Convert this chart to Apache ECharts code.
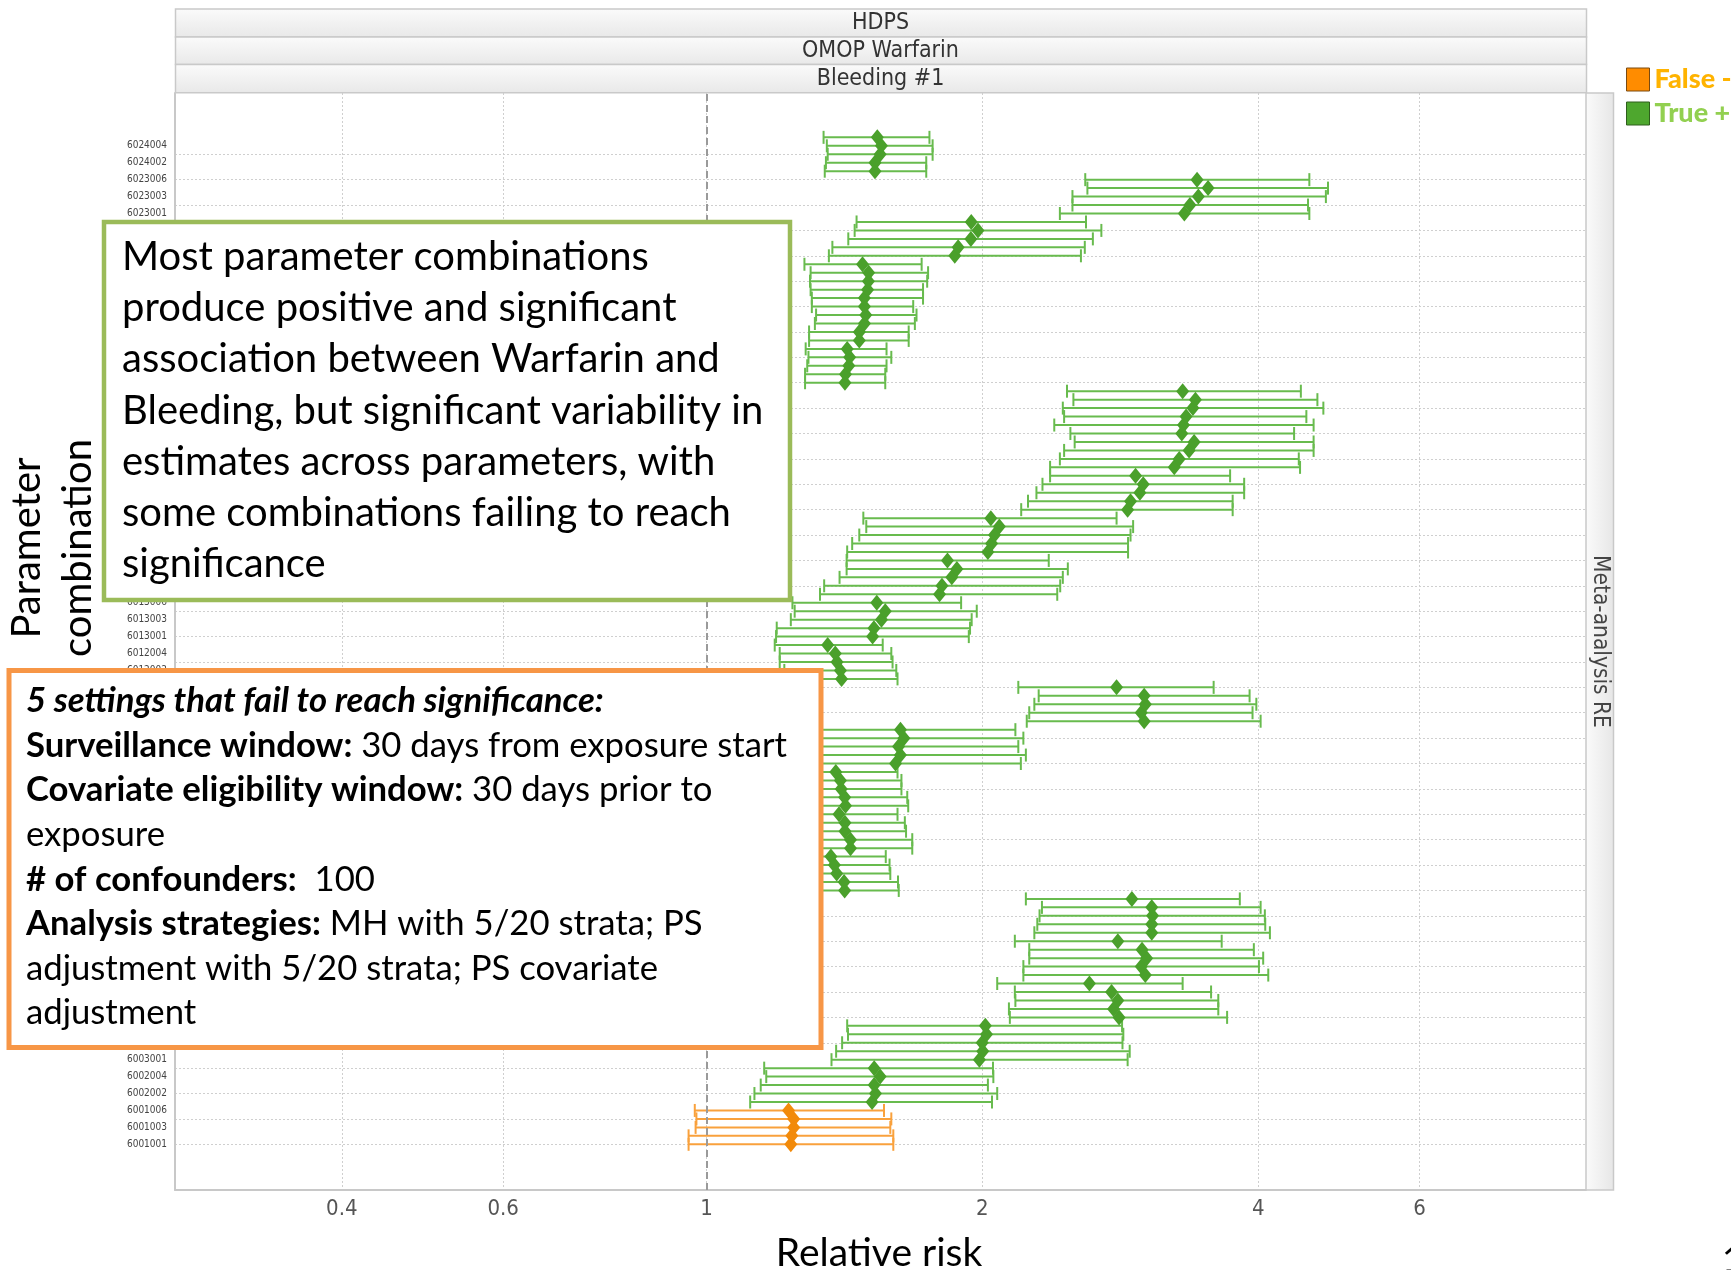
<!DOCTYPE html>
<html>
<head>
<meta charset="utf-8">
<script src="https://cdn.jsdelivr.net/npm/echarts@6/dist/echarts.min.js"></script>
<style>
html,body{margin:0;padding:0;background:#ffffff;}
#chart{width:1731px;height:1270px;}
</style>
</head>
<body>
<div id="chart"></div>
<script>
// ---------------- DATA (row 0 = bottom of the chart) ----------------
const categories = [
  '6001001','6001002','6001003','6001004','6001006',
  '6002001','6002002','6002003','6002004','6002006',
  '6003001','6003002','6003003','6003004','6003006',
  '6004001','6004002','6004003','6004004','6004006',
  '6005001','6005002','6005003','6005004','6005006',
  '6006001','6006002','6006003','6006004','6006006',
  '6007001','6007002','6007003','6007004','6007006',
  '6008001','6008002','6008003','6008004','6008006',
  '6009001','6009002','6009003','6009004','6009006',
  '6010001','6010002','6010003','6010004','6010006',
  '6011001','6011002','6011003','6011004','6011006',
  '6012001','6012002','6012003','6012004','6012006',
  '6013001','6013002','6013003','6013004','6013006',
  '6014001','6014002','6014003','6014004','6014006',
  '6015001','6015002','6015003','6015004','6015006',
  '6016001','6016002','6016003','6016004','6016006',
  '6017001','6017002','6017003','6017004','6017006',
  '6018001','6018002','6018003','6018004','6018006',
  '6019001','6019002','6019003','6019004','6019006',
  '6020001','6020002','6020003','6020004','6020006',
  '6021001','6021002','6021003','6021004','6021006',
  '6022001','6022002','6022003','6022004','6022006',
  '6023001','6023002','6023003','6023004','6023006',
  '6024001','6024002','6024003','6024004','6024006'
];
const estimate = [
  1.236,1.239,1.245,1.245,1.229,
  1.516,1.529,1.524,1.547,1.524,
  1.985,2.002,1.999,2.021,2.015,
  2.820,2.781,2.811,2.767,2.617,
  3.012,2.981,3.022,2.987,2.811,
  3.061,3.061,3.067,3.061,2.912,
  1.415,1.413,1.387,1.379,1.367,
  1.436,1.436,1.416,1.416,1.395,
  1.418,1.415,1.403,1.400,1.384,
  1.608,1.628,1.620,1.642,1.628,
  3.003,2.981,3.012,3.003,2.802,
  1.404,1.400,1.388,1.382,1.356,
  1.518,1.523,1.552,1.567,1.534,
  1.796,1.807,1.852,1.876,1.832,
  2.028,2.047,2.062,2.087,2.043,
  2.881,2.902,2.971,2.996,2.939,
  3.239,3.280,3.362,3.405,3.301,
  3.315,3.337,3.394,3.416,3.308,
  1.416,1.418,1.430,1.433,1.424,
  1.468,1.468,1.487,1.492,1.487,
  1.487,1.499,1.502,1.503,1.480,
  1.866,1.882,1.943,1.978,1.945,
  3.322,3.369,3.441,3.526,3.430,
  1.527,1.527,1.547,1.552,1.536
];
const lower = [
  0.956,0.956,0.973,0.975,0.971,
  1.116,1.128,1.146,1.162,1.156,
  1.369,1.385,1.406,1.427,1.424,
  2.143,2.138,2.173,2.170,2.076,
  2.217,2.217,2.250,2.250,2.170,
  2.279,2.296,2.309,2.323,2.231,
  1.235,1.235,1.211,1.201,1.192,
  1.229,1.229,1.215,1.219,1.205,
  1.211,1.209,1.206,1.201,1.184,
  1.173,1.188,1.198,1.216,1.220,
  2.236,2.250,2.279,2.304,2.189,
  1.220,1.216,1.202,1.202,1.187,
  1.191,1.193,1.236,1.248,1.241,
  1.330,1.344,1.397,1.422,1.422,
  1.424,1.442,1.468,1.494,1.483,
  2.205,2.243,2.291,2.326,2.371,
  2.371,2.430,2.456,2.522,2.495,
  2.396,2.456,2.448,2.514,2.474,
  1.281,1.281,1.288,1.292,1.283,
  1.294,1.294,1.313,1.317,1.303,
  1.303,1.299,1.297,1.299,1.279,
  1.360,1.372,1.428,1.451,1.458,
  2.430,2.508,2.508,2.604,2.590,
  1.346,1.350,1.356,1.353,1.342
];
const upper = [
  1.599,1.599,1.587,1.591,1.562,
  2.049,2.076,2.028,2.056,2.054,
  2.881,2.896,2.844,2.850,2.841,
  3.699,3.618,3.618,3.553,3.308,
  4.102,4.007,4.050,3.956,3.649,
  4.119,4.071,4.067,4.024,3.819,
  1.621,1.618,1.587,1.584,1.569,
  1.677,1.677,1.651,1.646,1.616,
  1.660,1.656,1.632,1.632,1.616,
  2.203,2.231,2.189,2.217,2.173,
  4.024,3.943,3.981,3.914,3.576,
  1.616,1.611,1.596,1.591,1.557,
  1.933,1.939,1.947,1.972,1.896,
  2.414,2.432,2.448,2.479,2.363,
  2.884,2.884,2.902,2.921,2.802,
  3.751,3.751,3.861,3.861,3.727,
  4.443,4.429,4.597,4.597,4.377,
  4.597,4.514,4.711,4.641,4.452,
  1.567,1.567,1.572,1.591,1.572,
  1.662,1.662,1.688,1.695,1.681,
  1.723,1.723,1.741,1.745,1.717,
  2.562,2.587,2.640,2.697,2.595,
  4.548,4.533,4.741,4.766,4.548,
  1.737,1.737,1.765,1.765,1.751
];
const xTickValues = [0.4, 0.6, 1, 2, 4, 6];
const xTickLabels = ['0.4', '0.6', '1', '2', '4', '6'];
const legendNames = ['False -', 'True +'];
const headerLabels = ['HDPS', 'OMOP Warfarin', 'Bleeding #1'];
const stripLabel = 'Meta-analysis RE';
const yTitleLines = ['Parameter', 'combination'];
const xTitle = 'Relative risk';
const greenLines = [
  'Most parameter combinations',
  'produce positive and significant',
  'association between Warfarin and',
  'Bleeding, but significant variability in',
  'estimates across parameters, with',
  'some combinations failing to reach',
  'significance'
];
const orangeLines = [
  '{bi|5 settings that fail to reach significance:}',
  '{b|Surveillance window:}{n| 30 days from exposure start}',
  '{b|Covariate eligibility window:}{n| 30 days prior to}',
  '{n|exposure}',
  '{b|# of confounders:}{n|  100}',
  '{b|Analysis strategies:}{n| MH with 5/20 strata; PS}',
  '{n|adjustment with 5/20 strata; PS covariate}',
  '{n|adjustment}'
];

// ---------------- STYLE ----------------
const CAL = 'Lato, "Open Sans", sans-serif';
const NAR = '"Liberation Sans Narrow", "DejaVu Sans Condensed", "Liberation Sans", sans-serif';
const GREEN_LINE = '#68bb4e', GREEN_PT = '#4aa02b';
const ORANGE_LINE = '#f9a13c', ORANGE_PT = '#f28a0a';

const G = {left: 175, top: 93, width: 1411, height: 1097};

// build series data
const greenBars = [], orangeBars = [], greenPts = [], orangePts = [];
categories.forEach((c, i) => {
  const bar = [Math.log(lower[i]), Math.log(upper[i]), i];
  const pt = [Math.log(estimate[i]), i];
  if (lower[i] < 1) { orangeBars.push(bar); orangePts.push(pt); }
  else { greenBars.push(bar); greenPts.push(pt); }
});
const xTickLn = xTickValues.map(v => Math.log(v));
const yLabelRows = categories.map((c, i) => i).filter(i => i % 2 === 0);
const yGridRows = categories.map((c, i) => i).filter(i => i % 3 === 0);

function makeBar(color) {
  return function (params, api) {
    const y = api.value(2);
    const a = api.coord([api.value(0), y]);
    const b = api.coord([api.value(1), y]);
    const h = 6.5;
    const st = {stroke: color, lineWidth: 2};
    return {
      type: 'group',
      children: [
        {type: 'line', shape: {x1: a[0], y1: a[1], x2: b[0], y2: b[1]}, style: st},
        {type: 'line', shape: {x1: a[0], y1: a[1] - h, x2: a[0], y2: a[1] + h}, style: st},
        {type: 'line', shape: {x1: b[0], y1: b[1] - h, x2: b[0], y2: b[1] + h}, style: st}
      ]
    };
  };
}

// graphic elements
const graphics = [];
const headerTop = [9, 37, 64.6];
const headerH = [28, 27.6, 28.2];
headerLabels.forEach((t, i) => {
  graphics.push({
    type: 'rect', z: 10,
    shape: {x: G.left + 0.5, y: headerTop[i], width: G.width, height: headerH[i]},
    style: {
      fill: new echarts.graphic.LinearGradient(0, 0, 0, 1, [
        {offset: 0, color: '#fbfbfb'}, {offset: 1, color: '#e8e8e8'}]),
      stroke: '#c9c9c9', lineWidth: 1.5
    }
  });
  graphics.push({
    type: 'text', z: 11,
    x: G.left + G.width / 2, y: headerTop[i] + headerH[i] / 2 + 0.5,
    style: {text: t, fontFamily: NAR, fontSize: 23, fill: '#333', align: 'center', verticalAlign: 'middle'}
  });
});
// right strip
graphics.push({
  type: 'rect', z: 10,
  shape: {x: G.left + G.width, y: G.top, width: 27.5, height: G.height},
  style: {
    fill: new echarts.graphic.LinearGradient(0, 0, 1, 0, [
      {offset: 0, color: '#fbfbfb'}, {offset: 1, color: '#e6e6e6'}]),
    stroke: '#c9c9c9', lineWidth: 1.5
  }
});
graphics.push({
  type: 'text', z: 11,
  x: G.left + G.width + 14, y: G.top + G.height / 2, rotation: -Math.PI / 2,
  style: {text: stripLabel, fontFamily: NAR, fontSize: 22.5, fill: '#444', align: 'center', verticalAlign: 'middle'}
});
// y title
const yTitleX = [27, 78];
yTitleLines.forEach((t, i) => {
  graphics.push({
    type: 'text', z: 11, x: yTitleX[i], y: 548, rotation: Math.PI / 2,
    style: {text: t, fontFamily: CAL, fontSize: 40, fill: '#000', align: 'center', verticalAlign: 'middle'}
  });
});
// x title
graphics.push({
  type: 'text', z: 11, x: 879, y: 1253,
  style: {text: xTitle, fontFamily: CAL, fontSize: 39, fill: '#000', align: 'center', verticalAlign: 'middle'}
});
// slide number
graphics.push({
  type: 'text', z: 11, x: 1722, y: 1260,
  style: {text: '1', fontFamily: CAL, fontSize: 36, fill: '#000', align: 'left', verticalAlign: 'middle'}
});
// green box
graphics.push({
  type: 'rect', z: 100,
  shape: {x: 104, y: 222, width: 686, height: 378},
  style: {fill: '#fff', stroke: '#9bbb59', lineWidth: 4.5}
});
greenLines.forEach((t, i) => {
  graphics.push({
    type: 'text', z: 101, x: 122, y: 257 + i * 51.2,
    style: {text: t, fontFamily: CAL, fontSize: 40, fill: '#000', align: 'left', verticalAlign: 'middle'}
  });
});
// orange box
graphics.push({
  type: 'rect', z: 100,
  shape: {x: 9, y: 670.5, width: 812, height: 377},
  style: {fill: '#fff', stroke: '#f79646', lineWidth: 5}
});
const richBase = {fontFamily: CAL, fontSize: 34.7, fill: '#000'};
orangeLines.forEach((t, i) => {
  graphics.push({
    type: 'text', z: 101, x: 26, y: 701 + i * 44.6,
    style: {
      text: t, fontFamily: CAL, fontSize: 34.7, fill: '#000', align: 'left', verticalAlign: 'middle',
      rich: {
        n: Object.assign({}, richBase),
        b: Object.assign({}, richBase, {fontWeight: 'bold'}),
        bi: Object.assign({}, richBase, {fontWeight: 'bold', fontStyle: 'italic'})
      }
    }
  });
});

const option = {
  animation: false,
  backgroundColor: '#ffffff',
  grid: {left: G.left, top: G.top, width: G.width, height: G.height, containLabel: false},
  legend: {
    orient: 'vertical', left: 1626, top: 66, padding: 0,
    itemWidth: 23, itemHeight: 23, itemGap: 7, icon: 'rect', selectedMode: false,
    textStyle: {fontFamily: CAL, fontWeight: 900, fontSize: 27},
    data: [
      {name: legendNames[0], textStyle: {color: '#ffb300'},
        itemStyle: {color: '#ff8c00', opacity: 1, borderColor: '#7a4a10', borderWidth: 1}},
      {name: legendNames[1], textStyle: {color: '#92d050'},
        itemStyle: {color: '#4ea72e', opacity: 1, borderColor: '#2e5e1c', borderWidth: 1}}
    ]
  },
  xAxis: {
    type: 'value', min: -1.3354, max: 2.2098,
    axisLine: {show: true, onZero: false, lineStyle: {color: '#c8c8c8', width: 2}},
    axisTick: {show: false, customValues: xTickLn},
    axisLabel: {
      customValues: xTickLn, margin: 8,
      fontFamily: NAR, fontSize: 22, color: '#555',
      formatter: v => {
        const i = xTickLn.findIndex(t => Math.abs(t - v) < 1e-6);
        return i >= 0 ? xTickLabels[i] : '';
      }
    },
    splitLine: {show: true, lineStyle: {color: '#cfcfcf', type: [2, 2], width: 1}}
  },
  yAxis: {
    type: 'value', min: -5.4, max: 124.24,
    axisLine: {show: true, onZero: false, lineStyle: {color: '#c8c8c8', width: 2}},
    axisTick: {show: false, customValues: yGridRows},
    axisLabel: {
      customValues: yLabelRows, margin: 8,
      fontFamily: NAR, fontSize: 10, color: '#444',
      formatter: v => categories[Math.round(v)] || ''
    },
    splitLine: {show: true, lineStyle: {color: '#cfcfcf', type: [2, 2], width: 1}}
  },
  series: [
    {
      name: legendNames[0], type: 'scatter', data: orangePts, symbol: 'diamond', symbolSize: [13, 16],
      itemStyle: {color: ORANGE_PT, opacity: 1}, z: 5
    },
    {
      name: legendNames[1], type: 'scatter', data: greenPts, symbol: 'diamond', symbolSize: [13, 16],
      itemStyle: {color: GREEN_PT, opacity: 1}, z: 5,
      markLine: {
        silent: true, symbol: 'none', label: {show: false},
        lineStyle: {color: '#9a9a9a', type: [7, 4], width: 2},
        data: [{xAxis: 0}]
      }
    },
    {
      name: legendNames[0], type: 'custom', renderItem: makeBar(ORANGE_LINE), data: orangeBars,
      encode: {x: [0, 1], y: 2}, z: 3
    },
    {
      name: legendNames[1], type: 'custom', renderItem: makeBar(GREEN_LINE), data: greenBars,
      encode: {x: [0, 1], y: 2}, z: 3
    }
  ],
  graphic: {elements: graphics}
};

const chart = echarts.init(document.getElementById('chart'), null, {width: 1731, height: 1270});
chart.setOption(option);
</script>
</body>
</html>
